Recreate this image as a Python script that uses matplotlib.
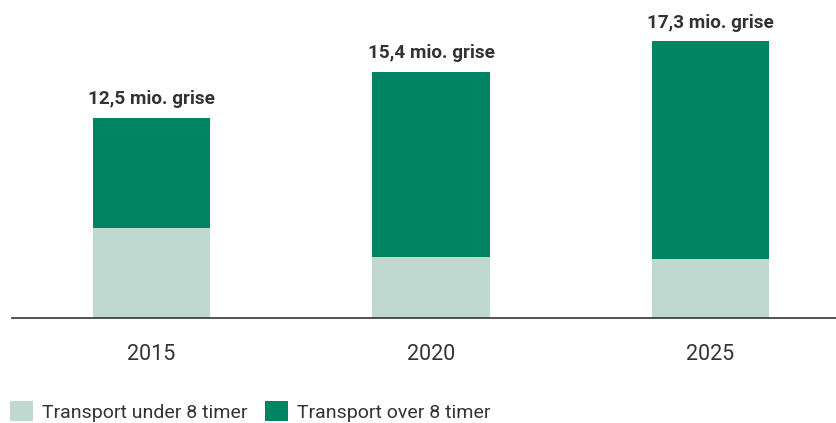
import matplotlib
matplotlib.use('Agg')
import matplotlib.pyplot as plt
import numpy as np

# data (mio. grise)
years = ['2015', '2020', '2025']
under_8 = [5.6, 3.8, 3.7]
over_8 = [6.9, 11.6, 13.6]
totals = ['12,5 mio. grise', '15,4 mio. grise', '17,3 mio. grise']
series_names = ['Transport under 8 timer', 'Transport over 8 timer']

light = '#c0d9d0'
dark = '#008464'
txt = '#333333'

plt.rcParams['font.family'] = ['Roboto', 'DejaVu Sans']

W, H = 837, 423
fig = plt.figure(figsize=(W / 100, H / 100), dpi=100)
ax = fig.add_axes([12 / W, (H - 318) / H, (W - 12) / W, 318 / H])

x = np.arange(len(years))
b1 = ax.bar(x, under_8, width=0.42, color=light, label=series_names[0])
b2 = ax.bar(x, over_8, width=0.42, bottom=under_8, color=dark, label=series_names[1])

for i in range(len(years)):
    ax.text(x[i], under_8[i] + over_8[i] + 0.6, totals[i], ha='center', va='bottom',
            fontsize=13.6, fontweight='bold', color=txt)

ax.set_xlim(-0.499, 2.4526)
ax.set_ylim(0, 318 / 16)
ax.set_xticks(x)
ax.set_xticklabels(years, fontsize=15.5, color=txt)
ax.tick_params(axis='x', length=0, pad=19)
ax.set_yticks([])
for s in ['top', 'right', 'left']:
    ax.spines[s].set_visible(False)
ax.spines['bottom'].set_color('#333333')
ax.spines['bottom'].set_linewidth(1.2)

fig.legend(handles=[b1, b2], labels=series_names, loc='lower left',
           bbox_to_anchor=(10 / W, 1 / H), ncol=2, frameon=False,
           borderpad=0, borderaxespad=0,
           fontsize=14, handlelength=1.2, handleheight=1.2, handletextpad=0.45,
           columnspacing=0.9, labelcolor=txt)

fig.savefig('out.png', dpi=100, facecolor='white')
